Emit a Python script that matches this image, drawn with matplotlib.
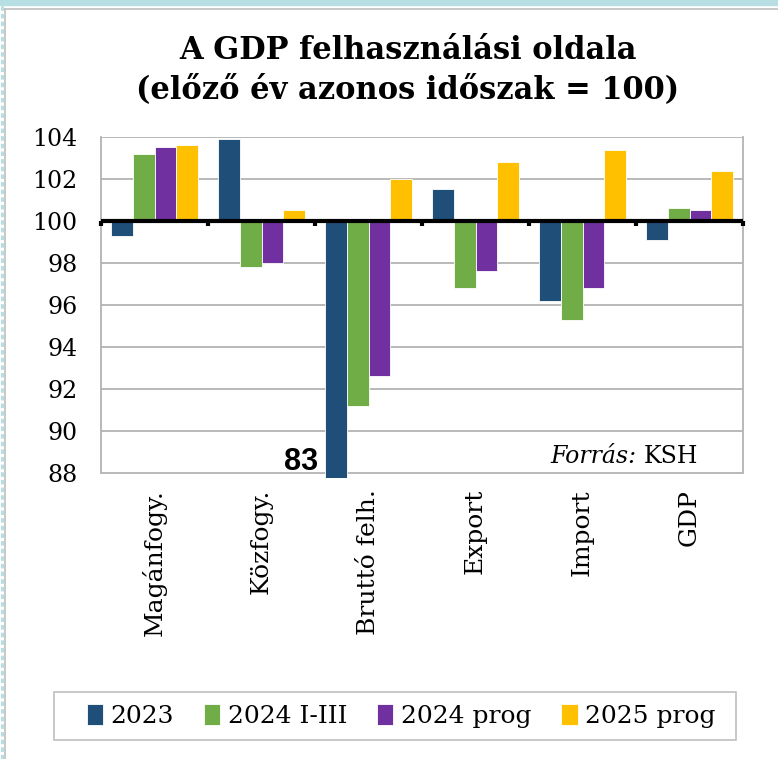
import matplotlib
matplotlib.use("Agg")
from matplotlib import pyplot as plt
from matplotlib.patches import Rectangle
from matplotlib.lines import Line2D
import numpy as np

categories = ["Magánfogy.", "Közfogy.", "Bruttó felh.", "Export", "Import", "GDP"]
series_names = ["2023", "2024 I-III", "2024 prog", "2025 prog"]
v_2023 = [99.3, 103.9, 83.0, 101.5, 96.2, 99.1]
v_2024_1_3 = [103.2, 97.8, 91.2, 96.8, 95.3, 100.6]
v_2024_prog = [103.5, 98.0, 92.6, 97.6, 96.8, 100.5]
v_2025_prog = [103.6, 100.5, 102.0, 102.8, 103.4, 102.4]
colors = ["#1F4E79", "#70AD47", "#7030A0", "#FFC000"]
y_ticks = [88, 90, 92, 94, 96, 98, 100, 102, 104]
base = 100

serif = "DejaVu Serif"

fig = plt.figure(figsize=(7.78, 7.59), dpi=100)
W, H = 778, 759

# slide decoration and chart border
fig.patches.append(Rectangle((0, 1 - 5 / H), 1, 5 / H, transform=fig.transFigure,
                             color="#B7DEE2", zorder=0))
fig.lines.append(Line2D([1.5 / W, 1.5 / W], [0, 1], transform=fig.transFigure,
                        color="#B7DEE2", lw=2.2, dashes=(1.5, 1.0)))
fig.lines.append(Line2D([4.5 / W, 4.5 / W], [0, 1 - 9 / H], transform=fig.transFigure,
                        color="#BFBFBF", lw=1.2))
fig.lines.append(Line2D([4.5 / W, 1], [1 - 9 / H, 1 - 9 / H], transform=fig.transFigure,
                        color="#BFBFBF", lw=1.2))

left, right, top = 101, 743, 137
bottom = 478
ax = fig.add_axes([left / W, 1 - bottom / H, (right - left) / W, (bottom - top) / H])

x = np.arange(len(categories))
width = 0.205
series = [v_2023, v_2024_1_3, v_2024_prog, v_2025_prog]
for i, (vals, name, c) in enumerate(zip(series, series_names, colors)):
    heights = [v - base for v in vals]
    ax.bar(x + (i - 1.5) * width, heights, width, bottom=base, color=c,
           label=name, edgecolor="white", linewidth=0.6, zorder=2)

ax.set_xlim(-0.5, len(categories) - 0.5)
ax.set_ylim(87.75, 104)
ax.set_yticks(y_ticks)
ax.set_yticklabels([str(t) for t in y_ticks], fontsize=17, family=serif)
ax.tick_params(axis="y", length=0, pad=17)
ax.yaxis.grid(True, color="#B3B3B3", lw=1.3, zorder=0)
ax.set_axisbelow(True)

ax.set_xticks(x)
ax.set_xticklabels(categories, rotation=90, fontsize=18, family=serif)
ax.tick_params(axis="x", length=0, pad=8)

for s in ["left", "right"]:
    ax.spines[s].set_color("#B3B3B3")
    ax.spines[s].set_linewidth(1.3)
    ax.spines[s].set_bounds(88, 104)
ax.spines["top"].set_visible(False)
ax.spines["bottom"].set_visible(False)

# category axis at 100 with tick marks between groups
ax.axhline(base, color="black", lw=3, zorder=3)
bounds = np.arange(len(categories) + 1) - 0.5
ax.vlines(bounds, base - 0.25, base, color="black", lw=3, zorder=3, clip_on=False)

# clipped value of the Bruttó felh. 2023 bar
ax.text(2 - 2 * width - 0.06, 88.14, "83", ha="right", va="baseline",
        fontsize=22, fontweight="bold", family="Liberation Sans")
ax.text(0.834, 0.045, "Forrás:", transform=ax.transAxes, ha="right", va="baseline",
        fontsize=17, family=serif, style="italic")
ax.text(0.845, 0.045, "KSH", transform=ax.transAxes, ha="left", va="baseline",
        fontsize=17, family=serif)

fig.text(408 / W, 1 - 35 / H, "A GDP felhasználási oldala\n(előző év azonos időszak = 100)",
         ha="center", va="top", fontsize=22, fontweight="bold", family=serif,
         linespacing=1.35)

fig.patches.append(Rectangle((54 / W, 1 - 740 / H), 682 / W, 48 / H,
                             transform=fig.transFigure, facecolor="white",
                             edgecolor="#BFBFBF", lw=1.2, zorder=1))
leg = fig.legend(loc="center", bbox_to_anchor=(401 / W, 1 - 716 / H), ncol=4,
                 prop={"family": serif, "size": 18}, frameon=False,
                 handlelength=0.65, handleheight=0.9,
                 handletextpad=0.3, columnspacing=1.2)
leg.set_zorder(2)

fig.savefig("out.png", dpi=100)
